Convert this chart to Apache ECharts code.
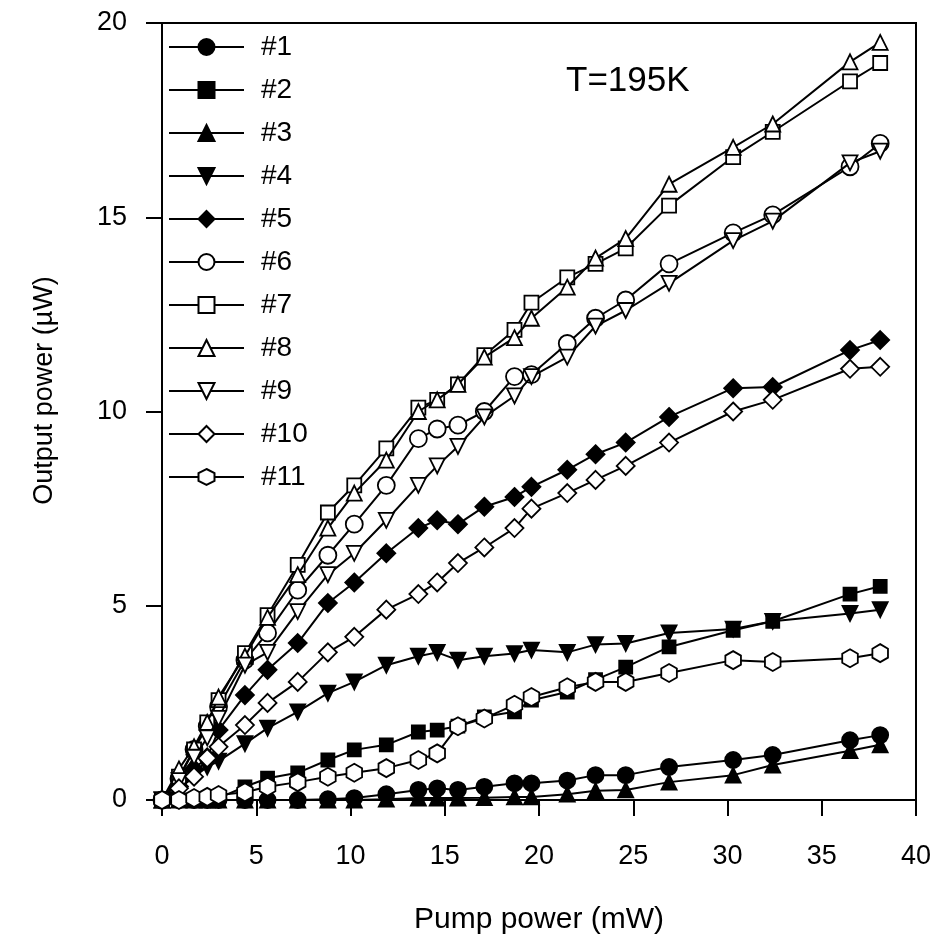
<!DOCTYPE html>
<html><head><meta charset="utf-8">
<script src="https://cdn.jsdelivr.net/npm/echarts@6/dist/echarts.min.js"></script>
<style>html,body{margin:0;padding:0;background:#fff}#c{width:945px;height:948px}</style>
</head><body><div id="c"></div>
<script>
// Pump power (mW) – shared x positions
const pumpPower = [0, 0.9, 1.7, 2.4, 3.0, 4.4, 5.6, 7.2, 8.8, 10.2, 11.9, 13.6, 14.6, 15.7, 17.1, 18.7, 19.6, 21.5, 23.0, 24.6, 26.9, 30.3, 32.4, 36.5, 38.1];
// Output power (µW) for each sample
const s1  = [0, 0, 0, 0, 0, 0, 0, 0, 0.02, 0.05, 0.15, 0.26, 0.3, 0.26, 0.34, 0.43, 0.43, 0.5, 0.64, 0.64, 0.85, 1.03, 1.16, 1.54, 1.67];
const s2  = [0, 0, 0, 0.02, 0.05, 0.34, 0.56, 0.7, 1.03, 1.29, 1.42, 1.75, 1.8, 1.9, 2.14, 2.27, 2.57, 2.78, 3.1, 3.42, 3.94, 4.37, 4.6, 5.3, 5.5];
const s3  = [0, 0, 0, 0, 0, 0, 0, 0, 0, 0, 0.02, 0.05, 0.05, 0.05, 0.06, 0.08, 0.08, 0.15, 0.24, 0.26, 0.46, 0.64, 0.9, 1.27, 1.42];
const s4  = [0, 0.3, 0.6, 0.85, 1.0, 1.45, 1.85, 2.27, 2.75, 3.04, 3.47, 3.7, 3.8, 3.6, 3.7, 3.77, 3.86, 3.8, 4.0, 4.03, 4.3, 4.4, 4.6, 4.8, 4.9];
const s5  = [0, 0.35, 0.8, 1.1, 1.8, 2.7, 3.35, 4.04, 5.07, 5.6, 6.35, 7.0, 7.2, 7.1, 7.55, 7.8, 8.06, 8.5, 8.9, 9.2, 9.86, 10.6, 10.63, 11.58, 11.84];
const s6  = [0, 0.55, 1.3, 1.9, 2.4, 3.6, 4.3, 5.4, 6.3, 7.1, 8.1, 9.3, 9.55, 9.65, 10.0, 10.9, 10.95, 11.75, 12.4, 12.87, 13.8, 14.6, 15.06, 16.3, 16.9];
const s7  = [0, 0.6, 1.3, 2.0, 2.57, 3.78, 4.76, 6.05, 7.4, 8.1, 9.05, 10.1, 10.3, 10.7, 11.45, 12.1, 12.8, 13.45, 13.8, 14.2, 15.3, 16.55, 17.2, 18.5, 18.97];
const s8  = [0, 0.8, 1.37, 2.0, 2.65, 3.7, 4.7, 5.8, 7.0, 7.9, 8.75, 10.0, 10.3, 10.7, 11.4, 11.9, 12.4, 13.2, 13.95, 14.45, 15.85, 16.8, 17.4, 19.0, 19.5];
const s9  = [0, 0.5, 1.1, 1.6, 2.1, 3.47, 3.8, 4.85, 5.8, 6.35, 7.2, 8.1, 8.6, 9.1, 9.86, 10.4, 10.9, 11.4, 12.2, 12.6, 13.3, 14.4, 14.9, 16.4, 16.7];
const s10 = [0, 0.3, 0.6, 1.08, 1.37, 1.93, 2.5, 3.04, 3.8, 4.2, 4.9, 5.3, 5.6, 6.1, 6.5, 7.0, 7.5, 7.9, 8.24, 8.6, 9.2, 10.0, 10.3, 11.1, 11.15];
const s11 = [0, 0, 0.05, 0.08, 0.13, 0.2, 0.34, 0.46, 0.6, 0.7, 0.82, 1.03, 1.2, 1.9, 2.1, 2.45, 2.65, 2.9, 3.04, 3.04, 3.27, 3.6, 3.55, 3.65, 3.78];
const seriesNames = ['#1', '#2', '#3', '#4', '#5', '#6', '#7', '#8', '#9', '#10', '#11'];
const xTicks = [0, 5, 10, 15, 20, 25, 30, 35, 40];
const yTicks = [0, 5, 10, 15, 20];

const allValues = [s1, s2, s3, s4, s5, s6, s7, s8, s9, s10, s11];
const HEX = 'path://M0,-1 L0.866,-0.5 L0.866,0.5 L0,1 L-0.866,0.5 L-0.866,-0.5 Z';
const markerStyles = [
  {symbol: 'circle', size: 16, rot: 0, fill: true},
  {symbol: 'rect', size: 13, rot: 0, fill: true},
  {symbol: 'triangle', size: 15, rot: 0, fill: true},
  {symbol: 'triangle', size: 15, rot: 180, fill: true},
  {symbol: 'diamond', size: 18, rot: 0, fill: true},
  {symbol: 'circle', size: 17, rot: 0, fill: false},
  {symbol: 'rect', size: 14, rot: 0, fill: false},
  {symbol: 'triangle', size: 15, rot: 0, fill: false},
  {symbol: 'triangle', size: 15, rot: 180, fill: false},
  {symbol: 'diamond', size: 18, rot: 0, fill: false},
  {symbol: HEX, size: 18, rot: 0, fill: false}
];

const FONT = 'Liberation Sans, Arial, Helvetica, sans-serif';
const series = allValues.map((vals, i) => {
  const m = markerStyles[i];
  return {
    name: seriesNames[i],
    type: 'line',
    data: pumpPower.map((x, j) => [x, vals[j]]),
    symbol: m.symbol,
    symbolSize: m.size,
    symbolRotate: m.rot,
    symbolKeepAspect: true,
    showAllSymbol: true,
    lineStyle: {color: '#000', width: 2},
    itemStyle: {color: m.fill ? '#000' : '#fff', borderColor: '#000', borderWidth: 1.8, opacity: 1},
    emphasis: {disabled: true},
    z: 2 + i
  };
});

const chart = echarts.init(document.getElementById('c'), null, {renderer: 'canvas'});
chart.setOption({
  animation: false,
  backgroundColor: '#fff',
  title: {
    text: 'T=195K', left: 561, top: 59,
    textStyle: {fontFamily: FONT, fontSize: 35, fontWeight: 'normal', color: '#000'}
  },
  legend: {
    orient: 'vertical', left: 168, top: 33, padding: 0,
    itemWidth: 75, itemHeight: 20, itemGap: 15,
    data: seriesNames,
    textStyle: {fontFamily: FONT, fontSize: 28, color: '#000', lineHeight: 28, padding: [0, 0, 0, 12]},
    selectedMode: false
  },
  grid: {left: 162, right: 29, top: 23, bottom: 148, show: true, borderColor: '#000', borderWidth: 2, backgroundColor: 'transparent'},
  xAxis: {
    type: 'value', min: xTicks[0], max: xTicks[xTicks.length - 1], interval: 5,
    name: 'Pump power (mW)', nameLocation: 'middle', nameGap: 105,
    nameTextStyle: {fontFamily: FONT, fontSize: 30, color: '#000'},
    axisLine: {show: true, onZero: false, lineStyle: {color: '#000', width: 2}},
    axisTick: {show: true, length: 16, lineStyle: {color: '#000', width: 2}},
    axisLabel: {fontFamily: FONT, fontSize: 27, color: '#000', margin: 43},
    splitLine: {show: false}
  },
  yAxis: {
    type: 'value', min: yTicks[0], max: yTicks[yTicks.length - 1], interval: 5,
    name: 'Output power (\u00b5W)', nameLocation: 'middle', nameGap: 104,
    nameTextStyle: {fontFamily: FONT, fontSize: 27, color: '#000', padding: [0, 0, 0, 42]},
    axisLine: {show: true, onZero: false, lineStyle: {color: '#000', width: 2}},
    axisTick: {show: true, length: 16, lineStyle: {color: '#000', width: 2}},
    axisLabel: {fontFamily: FONT, fontSize: 27, color: '#000', margin: 35},
    splitLine: {show: false}
  },
  series: series
});
</script>
</body></html>
